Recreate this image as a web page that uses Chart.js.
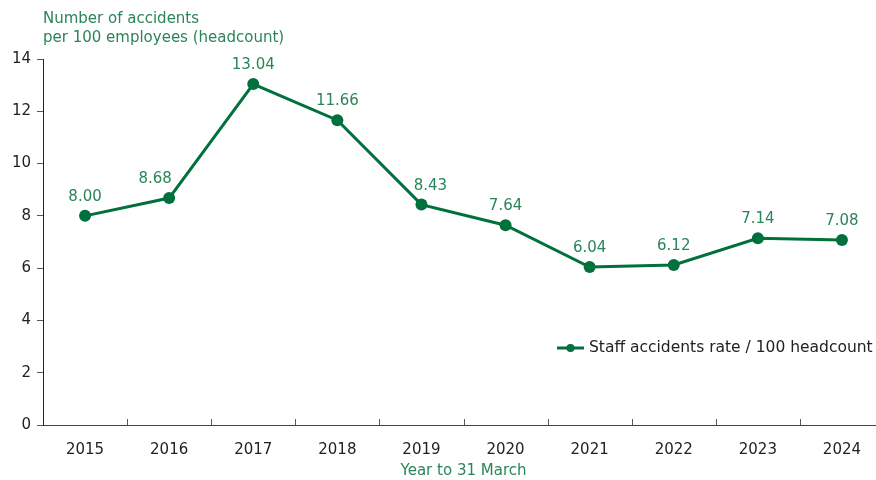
<!DOCTYPE html>
<html>
<head>
<meta charset="utf-8">
<script src="https://cdn.jsdelivr.net/npm/chart.js@4/dist/chart.umd.min.js"></script>
<style>
  html, body { margin: 0; padding: 0; background: #fff; }
  #wrap { width: 876px; height: 480px; overflow: hidden; position: relative; }
  #box { width: 892px; height: 480px; }
</style>
</head>
<body>
<div id="wrap"><div id="box"><canvas id="grafico"></canvas></div></div>
<script>
const anos = ['2015', '2016', '2017', '2018', '2019', '2020', '2021', '2022', '2023', '2024'];
const taxas = [8.00, 8.68, 13.04, 11.66, 8.43, 7.64, 6.04, 6.12, 7.14, 7.08];
const tituloY = ['Number of accidents', 'per 100 employees (headcount)'];
const tituloX = 'Year to 31 March';
const legendaTexto = 'Staff accidents rate / 100 headcount';

const verde = '#00703c';
const verdeTexto = '#2a8557';
const fonte = '"DejaVu Sans", Verdana, sans-serif';

// horizontal nudges so labels clear the line
const deslocX = [0, -14, 0, 0, 9, 0, 0, 0, 0, 0];

// titles, value labels, inner x ticks and the legend
const extras = {
    id: 'extras',
    afterDatasetsDraw(chart) {
        const ctx = chart.ctx;
        const area = chart.chartArea;
        const x = chart.scales.x;
        const meta = chart.getDatasetMeta(0);

        ctx.save();

        // x ticks between categories, pointing up
        ctx.strokeStyle = '#595959';
        ctx.lineWidth = 1;
        for (let i = 1; i < anos.length; i++) {
            const px = Math.round(x.getPixelForValue(i - 0.5)) + 0.5;
            ctx.beginPath();
            ctx.moveTo(px, area.bottom);
            ctx.lineTo(px, area.bottom - 6);
            ctx.stroke();
        }

        // value labels
        ctx.font = '15px ' + fonte;
        ctx.fillStyle = verdeTexto;
        ctx.textAlign = 'center';
        ctx.textBaseline = 'alphabetic';
        meta.data.forEach((pt, i) => {
            ctx.fillText(taxas[i].toFixed(2), pt.x + deslocX[i], pt.y - 15);
        });

        // y title
        ctx.textAlign = 'left';
        ctx.fillText(tituloY[0], 43, 23);
        ctx.fillText(tituloY[1], 43, 42);

        // x title
        ctx.textAlign = 'center';
        ctx.fillText(tituloX, (area.left + area.right) / 2, 475);

        // legend
        const ly = 348;
        ctx.strokeStyle = verde;
        ctx.lineWidth = 3;
        ctx.beginPath();
        ctx.moveTo(557, ly);
        ctx.lineTo(584, ly);
        ctx.stroke();
        ctx.fillStyle = verde;
        ctx.beginPath();
        ctx.arc(570.5, ly, 4, 0, Math.PI * 2);
        ctx.fill();
        ctx.font = '15.5px ' + fonte;
        ctx.fillStyle = '#222';
        ctx.textAlign = 'left';
        ctx.textBaseline = 'middle';
        ctx.fillText(legendaTexto, 589, ly);

        ctx.restore();
    }
};

new Chart(document.getElementById('grafico'), {
    type: 'line',
    data: {
        labels: anos,
        datasets: [{
            label: legendaTexto,
            data: taxas,
            borderColor: verde,
            backgroundColor: verde,
            borderWidth: 3,
            pointRadius: 6,
            pointBackgroundColor: verde,
            pointBorderWidth: 0,
            tension: 0
        }]
    },
    options: {
        responsive: true,
        maintainAspectRatio: false,
        animation: false,
        layout: { padding: { top: 59, right: 8, left: 0, bottom: 0 } },
        plugins: {
            legend: { display: false },
            tooltip: { enabled: false }
        },
        scales: {
            x: {
                offset: true,
                grid: { display: false, offset: true },
                border: { display: true, color: '#444', width: 1 },
                ticks: { color: '#222', font: { family: fonte, size: 15 }, padding: 8, maxRotation: 0 },
                afterFit: s => { s.height = 55; }
            },
            y: {
                min: 0,
                max: 14,
                ticks: { stepSize: 2, color: '#222', font: { family: fonte, size: 15 }, padding: 6 },
                grid: { drawOnChartArea: false, tickLength: 6, color: '#595959' },
                border: { display: true, color: '#222', width: 1 },
                afterFit: s => { s.width = 43; }
            }
        }
    },
    plugins: [extras]
});
</script>
</body>
</html>
